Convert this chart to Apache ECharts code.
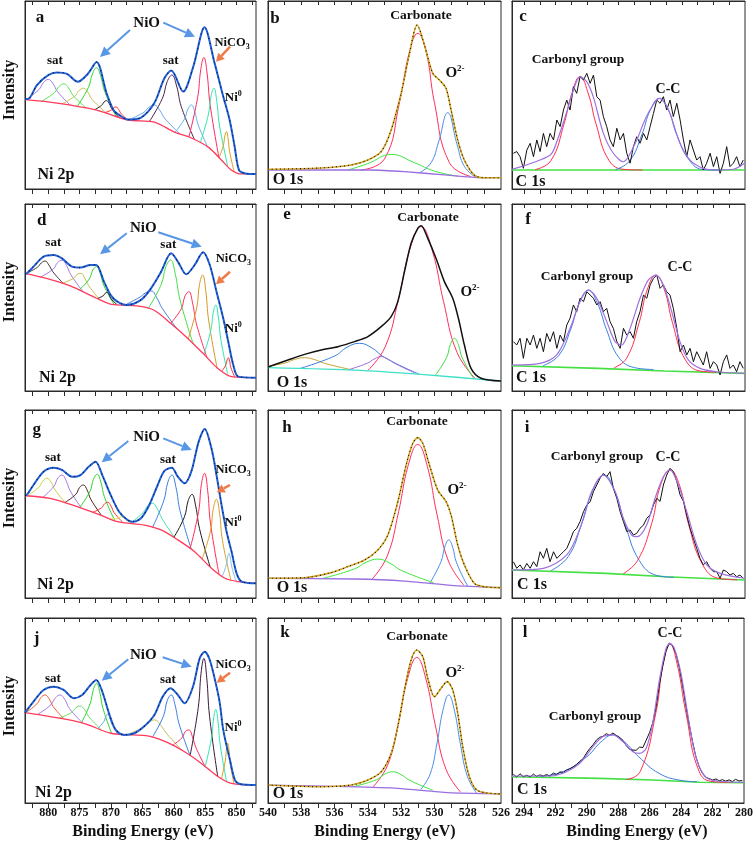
<!DOCTYPE html>
<html><head><meta charset="utf-8">
<script src="https://cdn.jsdelivr.net/npm/echarts@6/dist/echarts.min.js"></script>
<style>html,body{margin:0;padding:0;background:#fff}#c{width:756px;height:843px}</style>
</head><body><div id="c"></div><script>
// ---------------- tick / label values ----------------
const niLabels = [850,855,860,865,870,875,880];
const niTicks = [847.5,850,852.5,855,857.5,860,862.5,865,867.5,870,872.5,875,877.5,880,882.5];
const oLabels = [526,528,530,532,534,536,538,540];
const oTicks = [527,528,529,530,531,532,533,534,535,536,537,538,539];
const cLabels = [280,282,284,286,288,290,292,294];
const cTicks = [281,282,283,284,285,286,287,288,289,290,291,292,293,294];

// ---------------- panel a (Ni 2p) ----------------
const a_env = [[883.7,48],[883.2,47.9],[881.8,55.3],[880,60.6],[878.6,62],[877,61.2],[875.3,57],[873.7,61.2],[872.3,67.5],[870.7,50.9],[869.6,42],[868.7,39.4],[867.3,37],[865.2,38],[863.1,45.7],[861.5,58.9],[860.4,63],[858.5,51.8],[856.9,65],[855.1,86],[853.5,67],[852.1,49],[851.1,36.7],[850.3,22.5],[849.6,10],[848.6,8.3],[846.9,8]];
const a_bg = [[883.7,47.5],[878.6,45.7],[872.3,42],[867.3,36.7],[863.1,35.6],[859.9,30.3],[857.1,27],[854.4,22],[852.3,15],[850.8,10],[849.2,8],[846.9,8]];
const a_peaks = [
 [[883.6,47.5],[881.5,52.8],[880.75,56.6],[880,58.3],[879.25,56.1],[878.5,51.7],[876.4,44.4]],
 [[881.1,46.5],[879,51.3],[878.25,54.6],[877.5,55.9],[876.75,53.7],[876,49.6],[873.9,43]],
 [[877.8,45.3],[875.8,49.3],[875.1,52.3],[874.4,53.6],[873.7,51.5],[873,47.6],[871,41.2]],
 [[875.4,43.8],[873.6,54],[872.95,61.3],[872.3,64.5],[871.65,60.2],[871,51.9],[869.2,38.7]],
 [[872.6,42.2],[871.5,44.5],[871.1,46.3],[870.7,47],[870.3,45.5],[869.9,42.9],[868.8,38.3]],
 [[871,40.6],[869.95,42],[869.6,43.2],[869.2,43.6],[868.8,42.4],[868.45,40.4],[867.4,36.8]],
 [[867.3,36.7],[864.85,40.6],[863.98,43.4],[863.1,44.7],[862.2,41.7],[861.35,37.2],[858.9,29.1]],
 [[863.9,35.8],[861.8,48.3],[861.05,57.1],[860.3,60.6],[859.55,54.8],[858.8,43.8],[856.7,26.3]],
 [[859.8,30.2],[858.3,37.2],[857.75,42.5],[857.2,44.7],[856.65,40.9],[856.1,34],[854.6,22.4]],
 [[857.6,27.6],[856.2,48.6],[855.7,63.5],[855.2,70],[854.7,61.7],[854.2,44.6],[852.8,16.7]],
 [[855.8,24.4],[854.5,39.4],[854.05,49.6],[853.6,53.6],[853.15,46.6],[852.7,33.5],[851.4,12]],
 [[852.8,16.7],[852.1,23.2],[851.85,28.5],[851.6,30.5],[851.35,26.8],[851.1,19.9],[850.4,9.5]]
];
// ---------------- panel b (O 1s) ----------------
const b_env = [[540,10.5],[536.8,11.2],[535,12.8],[534,15.4],[533.2,19.9],[532.6,31.4],[532,50.9],[531.5,72],[531.04,87.2],[530.6,76.6],[530.1,61.5],[529.7,58],[529.3,53.5],[529,42],[528.6,26],[528.2,15.4],[527.6,7.4],[527,6],[526,6]];
const b_bg = [[540,10.1],[533.8,10.1],[531.8,9.2],[529.4,7.5],[527.2,6],[526,6]];
const b_peaks = [
 [[534.4,10.1],[533,16],[532.1,46],[531.5,73],[531.0,82.8],[530.5,73],[530,46],[529.1,14],[527.8,6.6]],
 [[530.9,8.5],[530.2,14],[529.75,25],[529.2,40.6],[528.65,24],[528.2,12],[527.5,6.1]],
 [[535.2,10.1],[534,13.5],[532.6,18.4],[531.2,14],[530,9.5],[528.6,6.8]]
];
// ---------------- C 1s energy grid ----------------
const c1sE = [294.67,294.46,294.25,294.04,293.82,293.61,293.40,293.19,292.98,292.77,292.56,292.35,292.13,291.92,291.71,291.50,291.29,291.08,290.87,290.66,290.45,290.23,290.02,289.81,289.60,289.39,289.18,288.97,288.76,288.55,288.34,288.12,287.91,287.70,287.49,287.28,287.07,286.86,286.65,286.43,286.22,286.01,285.80,285.59,285.38,285.17,284.96,284.75,284.54,284.32,284.11,283.90,283.69,283.48,283.27,283.06,282.85,282.64,282.43,282.21,282.00,281.79,281.58,281.37,281.16,280.95,280.74,280.53,280.32,280.11];
// ---------------- panel c (C 1s) ----------------
const c_raw = [19.0,19.9,17.2,11.0,20.7,24.3,17.2,26.1,19.9,29.6,22.5,29.6,26.1,36.7,33.2,42.0,47.3,42.0,54.4,50.9,59.8,58.0,61.5,56.2,60.6,49.1,47.3,38.5,33.2,26.1,22.5,32.3,26.1,29.6,19.0,13.7,22.5,27.8,24.3,29.6,26.1,33.2,40.2,47.3,45.6,49.1,42.0,47.3,38.5,45.6,36.7,26.1,17.2,26.1,20.7,15.4,17.2,10.1,13.7,19.0,11.9,17.2,8.3,13.7,22.5,11.9,13.7,17.2,11.9,15.4];
const c_env = [[294.76,10.5],[292.35,18],[291.93,25],[291.29,41],[290.87,52.7],[290.45,59.8],[290.03,57.1],[289.61,49],[288.97,29.6],[288.34,19],[287.71,14.5],[286.86,26],[286.44,34.9],[286.02,42],[285.43,48.2],[285.07,45.6],[284.75,40.2],[284.12,24.3],[283.48,15.4],[282.64,11],[281.79,10.1],[280.74,10.5],[280,14]];
const c_base = [[294.76,10.1],[280,10.1]];
const c_peaks = [
 [[293.3,10.3],[292.3,15],[291.45,35],[291.0,50],[290.45,59.8],[289.9,50],[289.45,35],[288.6,15],[287.6,10.4],[286.5,10.1]],
 [[288.2,10.3],[287.3,15],[286.53,29],[286,42],[285.43,48.2],[284.85,42],[284.33,29],[283.5,15],[282.6,10.3],[281.5,10.1]]
];
// ---------------- panel d (Ni 2p) ----------------
const d_env = [[883.7,62.5],[883.42,62.9],[882.35,66.5],[880.75,71.8],[879.14,72.7],[877.81,70.9],[876.2,66.5],[874.86,66],[873.26,67.4],[872.35,67.4],[871.12,58.5],[870.05,51.3],[868.98,47.8],[867.48,46],[865.23,48.7],[863.63,54.9],[862.02,63.8],[860.42,73.6],[859.35,69.2],[858.01,62.4],[856.67,67.4],[855.33,74.2],[854.26,67.4],[853.19,53.1],[852.12,38.9],[851.32,26.4],[850.52,13.9],[849.72,7.7],[846.9,7.1]];
const d_bg = [[883.7,62.9],[880.3,60.2],[876.6,56.3],[872.3,49.6],[869.9,46.3],[865.9,45.5],[863.2,43.3],[860.5,36.2],[857.8,28.2],[855.1,19.3],[853,12.1],[850.8,7.7],[846.9,7.1]];
const d_peaks = [
 [[883.5,63],[881.75,66.1],[881.1,68.5],[880.5,69.5],[879.9,67.4],[879.25,63.7],[877.5,57.2]],
 [[881.2,61],[879.2,65.2],[878.5,68.7],[877.8,70],[877.1,67.2],[876.4,62.2],[874.4,52.9]],
 [[877.8,57.6],[876.05,60.1],[875.4,62.3],[874.8,62.9],[874.2,60.5],[873.55,56.3],[871.8,48.9]],
 [[875.1,54],[873.45,59.9],[872.9,64.7],[872.3,66.5],[871.7,62.7],[871.15,56.5],[869.5,46.2]],
 [[872.2,49.4],[871.25,50.9],[870.9,52.3],[870.6,52.8],[870.3,51.5],[869.95,49.2],[869,46.1]],
 [[867.8,45.9],[865.35,50.3],[864.5,52.5],[863.6,53.5],[862.7,49.8],[861.85,44.3],[859.4,32.9]],
 [[864.1,44],[862,57],[861.25,66.6],[860.5,70],[859.75,62.4],[859,48.7],[856.9,25.2]],
 [[860.5,36.2],[858.8,44],[858.2,50.9],[857.6,53.1],[857,47],[856.4,36],[854.7,17.9]],
 [[857.7,27.8],[856.35,44.5],[855.9,57],[855.4,62],[854.9,53.6],[854.45,38],[853.1,12.4]],
 [[855.2,19.6],[854.1,32.4],[853.7,42.1],[853.3,46],[852.9,39.5],[852.5,27.6],[851.4,8.9]],
 [[852.3,10.7],[851.7,14.1],[851.5,16.7],[851.3,17.8],[851.1,15.9],[850.9,12.5],[850.3,7.6]]
];
// ---------------- panel e (O 1s) ----------------
const e_env = [[540,12.8],[538.8,16.6],[537.8,19.6],[536.8,21.9],[535.8,23.7],[534.8,26.4],[534,29.1],[533.2,34.4],[532.6,39.8],[532.2,47.8],[531.8,63.8],[531.4,79],[531,87],[530.8,88.4],[530.4,81.6],[529.9,70.9],[529.4,58.5],[528.9,49.6],[528.56,38.9],[528.2,24.6],[527.8,12.1],[527.2,6.8],[526,5.3]];
const e_bg = [[540,12.5],[534.8,11.2],[530.8,8.9],[526,5.3]];
const e_peaks = [
 [[540.5,12.6],[539,14.9],[538.4,16.9],[537.8,17.8],[537.2,16.8],[536.6,14.8],[534.9,11.2]],
 [[538.1,12],[536,18.7],[535.25,23.4],[534.5,25.5],[533.75,23],[533,17.9],[530.9,8.9]],
 [[535.2,11.3],[534.05,14.8],[533.6,17.2],[533.2,18.4],[532.8,17.1],[532.35,14.6],[531.2,9.8]],
 [[534,11],[532.96,23.6],[532.15,49.5],[531.475,75.8],[530.8,87.9],[530.125,74.9],[529.45,47.7],[528.64,20.6],[527.56,6.8]],
 [[529.95,8.3],[529.27,17.9],[529.04,24.9],[528.8,28.2],[528.56,24.7],[528.33,17.7],[527.65,6.8]]
];
// ---------------- panel f (C 1s) ----------------
const f_raw = [26.4,24.6,28.2,17.5,28.2,24.6,29.9,22.8,28.2,21.0,30.8,26.4,31.7,22.8,29.9,26.4,35.3,38.9,46.0,42.4,49.6,47.8,53.1,51.3,49.6,46.0,47.8,42.4,44.2,37.1,33.5,26.4,22.8,33.5,29.9,31.7,28.2,37.1,42.4,51.3,49.6,56.7,60.2,62.0,54.9,56.7,53.1,51.3,44.2,33.5,21.0,24.6,19.3,22.8,15.7,21.0,17.5,13.9,21.0,12.1,15.7,13.9,8.6,15.7,19.3,12.1,13.9,10.3,15.7,12.1];
const f_env = [[294.76,13.9],[292.98,14.8],[291.93,19.3],[291.08,33.5],[290.45,47.8],[289.92,54],[289.39,49.6],[288.76,37.1],[288.23,26.4],[287.81,24.6],[287.28,33.5],[286.65,49.6],[286.12,59.4],[285.64,62],[285.17,56.7],[284.64,42.4],[284.12,26.4],[283.59,16.6],[282.85,12.1],[281.79,10.3],[280,9.4]];
const f_base = [[294.76,13.5],[289.3,12.1],[285.1,10.7],[280,9.4]];
const f_peaks = [
 [[292.8,13.5],[291.8,19],[291.04,33],[290.5,47],[289.92,54],[289.35,47],[288.78,33],[288,18],[287,12.5],[285.8,11.5]],
 [[288.3,12.4],[287.5,17.5],[286.7,36.7],[286.2,54],[285.64,62],[285.1,54],[284.6,36.7],[283.8,17],[282.8,10.6],[281.8,10.1]]
];
// ---------------- panel g (Ni 2p) ----------------
const g_env = [[883.7,54.5],[883.42,54.8],[882.35,60.1],[880.75,67.2],[879.14,69.3],[877.81,68.1],[876.2,64.5],[874.86,65.4],[873.53,69.9],[872.46,72.5],[871.39,65.4],[870.05,54.8],[868.71,45.9],[867.37,41.5],[866.57,40.6],[865.23,42.4],[863.9,49.5],[862.56,60.1],[861.49,67.6],[860.31,69.3],[859.35,64.5],[858.28,61],[857.21,67.2],[856.03,83.2],[855.07,89.9],[854,79.6],[853.19,65.4],[852.39,49.5],[851.59,35.3],[850.79,24.6],[849.99,13.1],[849.18,8.7],[846.9,7.8]];
const g_bg = [[883.7,54.4],[879.68,53],[875.4,48.6],[871.65,44.1],[868.98,40.6],[864.7,38.8],[862.02,36.2],[859.35,30.9],[856.67,24.6],[854,15.8],[851.86,10.5],[849.72,8.7],[846.9,7.8]];
const g_peaks = [
 [[883.3,54.4],[881.5,58.9],[880.85,62.2],[880.2,63.7],[879.55,61.7],[878.9,57.4],[877.1,50.1]],
 [[880.9,53.4],[879.1,59.4],[878.45,63.9],[877.8,65.4],[877.15,62.4],[876.5,57],[874.7,47.8]],
 [[877.3,50.9],[875.6,55.2],[875,58.8],[874.4,60.1],[873.8,57.4],[873.2,52.4],[871.5,43.9]],
 [[875,48.1],[873.35,56.7],[872.8,63.1],[872.2,65.8],[871.6,61.5],[871.05,53.8],[869.4,41.2]],
 [[872.9,45.6],[871.5,48],[871,50.2],[870.5,50.9],[870,48.9],[869.5,45.4],[868.1,40.2]],
 [[870.1,42.1],[869.05,42.2],[868.7,42.9],[868.3,43.3],[867.9,42.6],[867.55,41.5],[866.5,39.6]],
 [[867,39.6],[864.9,45.4],[864.15,49.1],[863.4,50.4],[862.65,47.6],[861.9,42.4],[859.8,31.8]],
 [[863.4,37.5],[861.6,51.7],[860.95,61.5],[860.3,65.4],[859.65,58.9],[859,46.4],[857.2,25.9]],
 [[860,32.2],[858.3,43.2],[857.7,51.8],[857.1,55.1],[856.5,48.8],[855.9,36.9],[854.2,16.5]],
 [[857.4,26.3],[856.05,45.9],[855.6,60.4],[855.1,66.3],[854.6,57.2],[854.15,39.8],[852.8,12.8]],
 [[855.5,20.6],[854.15,35.7],[853.7,47.5],[853.2,52.5],[852.7,45],[852.25,30.7],[850.9,9.6]],
 [[852.3,11.5],[851.65,17.3],[851.4,21.8],[851.2,23.8],[851,21.4],[850.75,16.5],[850.1,9.1]]
];
// ---------------- panel h (O 1s) ----------------
const h_env = [[540,10.5],[537.8,10.8],[536.2,13.5],[535.2,16.7],[534.2,20.2],[533.4,25.5],[532.8,33.5],[532.2,51.2],[531.7,70.7],[531.3,82.3],[531,85.3],[530.7,82.3],[530.3,70.7],[529.8,57.4],[529.3,51.2],[529,44.1],[528.6,28.2],[528.2,17.6],[527.6,7.8],[527,6],[526,5.5]];
const h_bg = [[540,10.5],[534.8,10.1],[531.8,9],[528.8,6.6],[526,5.5]];
const h_peaks = [
 [[533.76,9.9],[532.84,22.2],[532.15,46],[531.58,70.4],[531,81.7],[530.42,69.8],[529.85,44.6],[529.16,19.7],[528.24,6.9]],
 [[530.28,7.8],[529.6,19.4],[529.38,27.1],[529.14,30.9],[528.9,26.9],[528.67,18.7],[528,6.3]],
 [[536.76,10.3],[534.8,15.5],[534.1,19],[533.4,20.7],[532.7,18.7],[532,14.7],[530.04,8.1]]
];
// ---------------- panel i (C 1s) ----------------
const i_raw = [19.3,15.8,17.6,14.9,18.4,15.8,19.3,16.7,24.6,21.1,26.4,19.3,24.6,21.1,22.9,24.6,26.4,30.5,35.3,37.1,40.6,45.9,49.5,51.2,56.6,60.1,63.7,66.3,64.5,67.2,58.3,53,45.9,40.6,35.3,36.2,33.5,34.4,37.1,38.8,42.4,44.1,49.5,53,51.4,60.1,65.4,69,67.2,61.9,54.8,51.4,44.1,37.1,31.7,26.4,21.1,17.6,19.3,15.8,14,14,10.5,14.9,14,12.2,13.1,11.3,12.2,10.5];
const i_env = [[294.76,14.9],[292.77,15.8],[291.29,22.9],[290.45,37.1],[289.71,56.6],[288.97,65.4],[288.23,56.6],[287.71,42.4],[287.18,33.5],[286.82,32.6],[286.23,38.8],[285.7,53],[285.17,64.5],[284.75,68.1],[284.22,60.1],[283.69,45.9],[283.06,28.4],[282.43,17.7],[281.58,13.1],[280,10.5]];
const i_base = [[294.76,14.9],[288.8,13.1],[285,11.3],[280,9.6]];
const i_peaks = [
 [[292.3,14.5],[291.2,22],[290.35,39.3],[289.65,57],[288.93,65.4],[288.25,57],[287.6,39.3],[286.7,20],[285.6,12],[284.5,11]],
 [[287.7,13],[286.8,20],[285.91,39.7],[285.35,60],[284.75,68.1],[284.15,60],[283.59,39.7],[282.7,18],[281.7,10.5],[280.5,9.7]]
];
// ---------------- panel j (Ni 2p) ----------------
const j_env = [[883.7,48.8],[882.35,54.8],[880.75,61.1],[879.14,62.9],[877.54,61.1],[875.93,56.6],[874.6,58.4],[873.26,63.8],[872.35,66.5],[871.39,60.2],[870.32,48.5],[869.25,39.5],[867.91,36.8],[866.3,37.7],[864.7,41.5],[863.09,47.6],[861.76,57.5],[860.52,62],[859.35,58.4],[858.28,53.9],[856.94,62.9],[855.87,78.2],[855.07,81.8],[854.26,77.3],[853.19,62.9],[852.66,53.9],[852.12,39.5],[851.05,23.2],[850.25,12.4],[849.45,10.3],[846.9,9.7]];
const j_bg = [[883.7,48.8],[879.68,46.7],[874.33,43.1],[870.05,37.7],[866.3,36.8],[863.63,35.9],[860.95,32.6],[858.28,27.7],[855.6,21.4],[852.92,14.2],[850.79,10.6],[846.9,9.7]];
const j_peaks = [
 [[883.6,48.8],[881.8,53.6],[881.15,57],[880.5,58.4],[879.85,56.3],[879.2,52.1],[877.4,45.2]],
 [[881.7,47.9],[879.6,53],[878.85,56.9],[878.1,58.4],[877.35,55.9],[876.6,51],[874.5,43.2]],
 [[878.3,45.8],[876.3,48.9],[875.6,51.4],[874.9,52.4],[874.2,50.4],[873.5,46.5],[871.5,39.5]],
 [[874.7,43.4],[873.3,53.9],[872.8,61.4],[872.3,64.7],[871.8,60.1],[871.3,51.4],[869.9,37.6]],
 [[872.1,40.3],[871.15,44],[870.8,46.9],[870.5,48.1],[870.2,46],[869.85,42.5],[868.9,37.4]],
 [[867.3,37],[864.8,41.2],[863.9,43.8],[863,44.9],[862.1,42.2],[861.2,37.8],[858.7,28.5]],
 [[863.4,35.6],[861.65,46.9],[861.05,55.3],[860.4,58.4],[859.8,53],[859.15,42.7],[857.4,25.6]],
 [[860.2,31.2],[858.7,35.2],[858.15,38.7],[857.6,39.5],[857.05,36.1],[856.5,30.2],[855,19.8]],
 [[857.4,25.6],[856.1,51.6],[855.65,70.2],[855.2,78.2],[854.75,67.7],[854.3,46.9],[853,14.4]],
 [[855,19.8],[854,34.8],[853.65,45.9],[853.3,50.6],[852.95,44],[852.6,31.4],[851.6,11.9]],
 [[852.4,13.3],[851.8,22.7],[851.6,29.3],[851.4,32.3],[851.2,28.7],[851,21.3],[850.4,10.4]]
];
// ---------------- panel k (O 1s) ----------------
const k_env = [[540,9.7],[536.8,8.8],[535,9.7],[534,12.4],[533.2,16.9],[532.6,26.8],[532.2,41.3],[531.8,61.1],[531.4,77.3],[531.06,82.7],[530.7,79.1],[530.4,67.4],[530,57.5],[529.6,62],[529.24,65.6],[528.9,61.1],[528.6,48.5],[528.3,30.5],[527.9,14.2],[527.4,6.7],[526,4.9]];
const k_bg = [[540,9.7],[535.2,8.8],[532.2,7.9],[529.2,5.6],[526,4.9]];
const k_peaks = [
 [[533.7,8.6],[532.82,20.3],[532.16,43.4],[531.61,67.3],[531.06,78.7],[530.51,67],[529.96,42.6],[529.3,18.1],[528.42,5.8]],
 [[530.82,7.4],[530.26,15.6],[529.84,32.5],[529.49,50.1],[529.14,58.4],[528.79,49.6],[528.44,31.9],[528.02,14.4],[527.46,5.3]],
 [[534.9,8.8],[533.5,12.5],[533,15.5],[532.5,16.9],[532,15.3],[531.5,12.3],[530.1,6.9]]
];
// ---------------- panel l (C 1s) ----------------
const l_raw = [15.5,14,15.8,14.2,15,14.1,15.6,14.4,15.2,14.6,15.4,14.5,16.2,15.3,16.8,16.5,17.8,18.5,19.5,20.8,22.5,24,27,29.5,31.5,34,35.5,36,37.5,36.6,37.8,36.5,35.4,33.8,31,29,28.6,28.5,30.2,30,34,38,43.5,52,64,74,82,86.5,85,80.5,73,63,52,42,33,25,19.5,16,13.8,13.2,12.4,13,12,12.6,11.8,12.5,11.6,12.8,11.9,12.2];
const l_env = [[294.76,14.6],[292.35,14.6],[291.29,16.9],[290.45,21.4],[289.61,30.5],[288.97,35.9],[288.34,36.8],[287.71,33.2],[287.07,27.7],[286.65,26.8],[286.23,29.5],[285.81,43.1],[285.38,66.5],[284.96,83.6],[284.71,86.3],[284.43,83.6],[284.01,70.1],[283.59,48.5],[283.17,28.6],[282.74,17.8],[282.22,12.8],[281.16,11.5],[280,11.2]];
const l_base = [[294.76,14.2],[289.2,13.3],[285.8,12.4],[282.85,11.2],[280,11]];
const l_peaks = [
 [[293,14.3],[291.5,17],[290,25],[289.1,33],[288.34,36.8],[287.6,33],[286.7,25],[285.4,16],[284,12.2],[283,11.5]],
 [[287.5,12.6],[286.6,17],[285.6,49],[285.15,75],[284.71,86],[284.25,75],[283.7,49],[282.8,16],[281.8,11.4],[280.8,11.1]]
];

// ---------------- styles ----------------
const FONT = 'Liberation Serif';
const a_colors = ['#a678e6','#56e356','#c4c04a','#2ed62e','#1a1a1a','#ff3030','#6aa6ea','#4a2448','#5ab4f2','#ff2a62','#2ee6a8','#d9a024'];
const d_colors = ['#4a3434','#a678e6','#c4c050','#2ed62e','#1a1a1a','#4a80e0','#44e044','#ff3060','#d49a20','#2ee6b0','#ff3040'];
const g_colors = ['#cad040','#a678e6','#4a2020','#2ed62e','#ff3030','#e0e040','#44e0a8','#3a80e0','#1a1a1a','#ff2a55','#d9a024','#80c0f0'];
const j_colors = ['#f06030','#a678e6','#66e066','#2ed62e','#60a6e6','#c4c060','#3a80e0','#ff3060','#3a1a3a','#2ee6b0','#d9a024'];
const o_colors = ['#ff2f5f','#4a8ee8','#3ee83e'];
const e_colors = ['#c8a030','#3a80e0','#a070e0','#ff3060','#40e040'];
const cc_colors = ['#ff3050','#3a80e0'];
const ci_colors = ['#3a80e0','#ff3050'];

const COLS = [
 {left:25, width:231, min:846.9, max:883.7, labels:niLabels, ticks:niTicks},
 {left:268, width:233, min:526, max:540, labels:oLabels, ticks:oTicks},
 {left:512, width:233, min:280, max:294.76, labels:cLabels, ticks:cTicks}
];
const ROWS = [{top:1,height:188},{top:204,height:187},{top:410,height:188},{top:618,height:185}];

const PANELS = [
 {row:0,col:0,kind:'ni',env:a_env,bg:a_bg,peaks:a_peaks,colors:a_colors},
 {row:0,col:1,kind:'o',env:b_env,bg:b_bg,peaks:b_peaks,colors:o_colors},
 {row:0,col:2,kind:'c',env:c_env,bg:c_base,peaks:c_peaks,colors:cc_colors,raw:c_raw},
 {row:1,col:0,kind:'ni',env:d_env,bg:d_bg,peaks:d_peaks,colors:d_colors},
 {row:1,col:1,kind:'oe',env:e_env,bg:e_bg,peaks:e_peaks,colors:e_colors},
 {row:1,col:2,kind:'c',env:f_env,bg:f_base,peaks:f_peaks,colors:ci_colors,raw:f_raw},
 {row:2,col:0,kind:'ni',env:g_env,bg:g_bg,peaks:g_peaks,colors:g_colors},
 {row:2,col:1,kind:'o',env:h_env,bg:h_bg,peaks:h_peaks,colors:o_colors},
 {row:2,col:2,kind:'c',env:i_env,bg:i_base,peaks:i_peaks,colors:ci_colors,raw:i_raw},
 {row:3,col:0,kind:'ni',env:j_env,bg:j_bg,peaks:j_peaks,colors:j_colors},
 {row:3,col:1,kind:'o',env:k_env,bg:k_bg,peaks:k_peaks,colors:o_colors},
 {row:3,col:2,kind:'c',env:l_env,bg:l_base,peaks:l_peaks,colors:ci_colors,raw:l_raw}
];

const grids=[], xAxes=[], yAxes=[], series=[];
const FRAME = '#2a2a2a';
PANELS.forEach((P,i)=>{
  const C = COLS[P.col], R = ROWS[P.row];
  grids.push({left:C.left, top:R.top, width:C.width, height:R.height, show:true, borderColor:FRAME, borderWidth:1, backgroundColor:'rgba(0,0,0,0)', containLabel:false});
  const common = {gridIndex:i, type:'value', inverse:true, min:C.min, max:C.max, splitLine:{show:false},
    axisLine:{show:true, onZero:false, lineStyle:{color:FRAME, width:1}}};
  xAxes.push(Object.assign({}, common, {position:'bottom',
    axisTick:{show:true, inside:false, length:5, customValues:C.ticks, lineStyle:{color:FRAME}},
    axisLabel:{show:P.row===3, customValues:C.labels, fontFamily:FONT, fontWeight:'bold', fontSize:12, color:'#111', margin:4, showMinLabel:true, showMaxLabel:true}}));
  xAxes.push(Object.assign({}, common, {position:'top',
    axisTick:{show:true, inside:true, length:4, customValues:C.ticks, lineStyle:{color:FRAME}},
    axisLabel:{show:false}}));
  yAxes.push({gridIndex:i, type:'value', min:0, max:100, axisLine:{show:true, onZero:false, lineStyle:{color:FRAME}}, axisTick:{show:false}, axisLabel:{show:false}, splitLine:{show:false}});
  const base = {type:'line', xAxisIndex:2*i, yAxisIndex:i, showSymbol:false, symbol:'none', silent:true, animation:false};
  const line = (data, color, width, smooth, type, z) => Object.assign({}, base, {data, smooth, z, lineStyle:{color, width, type:type||'solid'}});
  if (P.kind==='ni') {
    P.peaks.forEach((pk,k)=>series.push(line(pk, P.colors[k], 1, 0.45, null, 2)));
    series.push(line(P.bg, '#ff3a5c', 1.3, 0.3, null, 3));
    series.push(line(P.env, '#1f5fd9', 2, 0.3, null, 4));
    series.push(line(P.env, '#111', 1.1, 0.3, [1,4], 5));
  } else if (P.kind==='o') {
    P.peaks.forEach((pk,k)=>series.push(line(pk, P.colors[k], 1, 0.45, null, 2)));
    series.push(line(P.bg, '#9a6ee0', 1.3, 0.2, null, 3));
    series.push(line(P.env, '#d4a520', 1.6, 0.3, null, 4));
    series.push(line(P.env, '#111', 1.1, 0.3, [1,3], 5));
  } else if (P.kind==='oe') {
    P.peaks.forEach((pk,k)=>series.push(line(pk, P.colors[k], 1, 0.45, null, 2)));
    series.push(line(P.bg, '#3ee0c8', 1.3, 0.2, null, 3));
    series.push(line(P.env, '#111', 1.5, 0.3, null, 4));
  } else {
    series.push(line(P.bg, '#44e044', 1.6, 0, null, 2));
    P.peaks.forEach((pk,k)=>series.push(line(pk, P.colors[k], 1, 0.45, null, 3)));
    series.push(line(P.raw.map((v,n)=>[c1sE[n], v]), '#111', 1, 0, null, 4));
    series.push(line(P.env, '#a070e0', 1.2, 0.3, null, 5));
  }
});

// ---------------- annotations ----------------
const G = [];
function txt(x,y,text,size,weight){ G.push({type:'text', x, y, z:100, style:{text, fontFamily:FONT, fontWeight:weight||'bold', fontSize:size, fill:'#111', align:'center', verticalAlign:'middle'}}); }
function rich(x,y,text,size,small,mode){
  G.push({type:'text', x, y, z:100, style:{text, align:'center', verticalAlign:'middle', fill:'#111', fontFamily:FONT, fontWeight:'bold', fontSize:size,
    rich:{b:{fontFamily:FONT, fontWeight:'bold', fontSize:size, lineHeight:size+3, verticalAlign:'middle'},
          s:{fontFamily:FONT, fontWeight:'bold', fontSize:small, lineHeight:small, verticalAlign:mode}}}});
}
function arrow(x0,y0,x1,y1,color,w,hl,hw){
  const a=Math.atan2(y1-y0,x1-x0), bx=x1-hl*Math.cos(a), by=y1-hl*Math.sin(a);
  const px=-Math.sin(a)*hw/2, py=Math.cos(a)*hw/2;
  G.push({type:'line', z:99, shape:{x1:x0,y1:y0,x2:bx,y2:by}, style:{stroke:color, lineWidth:w}});
  G.push({type:'polygon', z:99, shape:{points:[[x1,y1],[bx+px,by+py],[bx-px,by-py]]}, style:{fill:color}});
}
const BLUE_ARROW='#5896e6', ORANGE_ARROW='#f07a4a';
// Ni panels
[[0,40,18, 146.7,22.7, 55,61, 170.7,60.7, 232,43, 233.3,97.7, 56,175,
   [130,30,100,57],[163.3,22.7,195,36.7],[230,46.7,216,61.7]],
 [1,41.7,221, 143.3,228.3, 53.3,242.7, 168.3,244.3, 233.3,259, 233.3,329, 57.5,377.7,
   [126.7,233.3,100,254.3],[158.3,232.3,201.7,246.7],[230,271.7,216,284.3]],
 [2,36.7,430, 146.7,436.7, 53,458, 168,460, 233,470, 233,523, 55.5,585,
   [128.3,441,101.7,462.3],[163.3,438.3,191.7,450],[230,485,216.7,492.3]],
 [3,36.7,638.3, 143.3,655, 53,679, 168,680, 233,665, 233,728, 53.5,793,
   [128.3,659.3,101.7,680.7],[162.7,657.3,191.7,666.7],[230,672.7,216.7,682.7]]
].forEach((r)=>{
  txt(r[1],r[2],['a','d','g','j'][r[0]],17);
  txt(r[3],r[4],'NiO',15);
  txt(r[5],r[6],'sat',13); txt(r[7],r[8],'sat',13);
  rich(r[9],r[10],'{b|NiCO}{s|3}',12.5,8,'bottom');
  rich(r[11],r[12],'{b|Ni}{s|0}',13,8,'top');
  txt(r[13],r[14],'Ni 2p',16);
  arrow(...r[15],BLUE_ARROW,2,10,10); arrow(...r[16],BLUE_ARROW,2,10,10); arrow(...r[17],ORANGE_ARROW,2.5,8,9);
});
// O panels
[['b',275,19, 421,16, 455,73, 288,180],
 ['e',287,215, 428,218, 470,292, 292,383],
 ['h',287,428, 417,422, 457,490, 292,588],
 ['k',285,633, 417,637, 455,673, 288,794]].forEach(r=>{
  txt(r[1],r[2],r[0],17);
  txt(r[3],r[4],'Carbonate',13.5);
  rich(r[5],r[6],'{b|O}{s|2-}',15,9,'top');
  txt(r[7],r[8],'O 1s',16);
});
// C panels
[['c',523,17, 578,60, 668,89, 530.5,182],
 ['f',528,220, 587,277, 680,267, 531,378],
 ['i',527,428, 597,457, 668,457, 532,585],
 ['l',525,633, 595,717, 670,633, 532,790]].forEach(r=>{
  txt(r[1],r[2],r[0],17);
  txt(r[3],r[4],'Carbonyl group',13.5);
  txt(r[5],r[6],'C-C',14);
  txt(r[7],r[8],'C 1s',16);
});
// axis titles
[90,292,498,706].forEach(y=>G.push({type:'text', x:10, y, rotation:Math.PI/2, z:100,
  style:{text:'Intensity', fontFamily:FONT, fontWeight:'bold', fontSize:16, fill:'#111', align:'center', verticalAlign:'middle'}}));
[143,385,637].forEach(x=>txt(x,832,'Binding Energy (eV)',16));

const chart = echarts.init(document.getElementById('c'), null, {renderer:'canvas', width:756, height:843});
chart.setOption({animation:false, backgroundColor:'#fff', grid:grids, xAxis:xAxes, yAxis:yAxes, series, graphic:G});
</script></body></html>
